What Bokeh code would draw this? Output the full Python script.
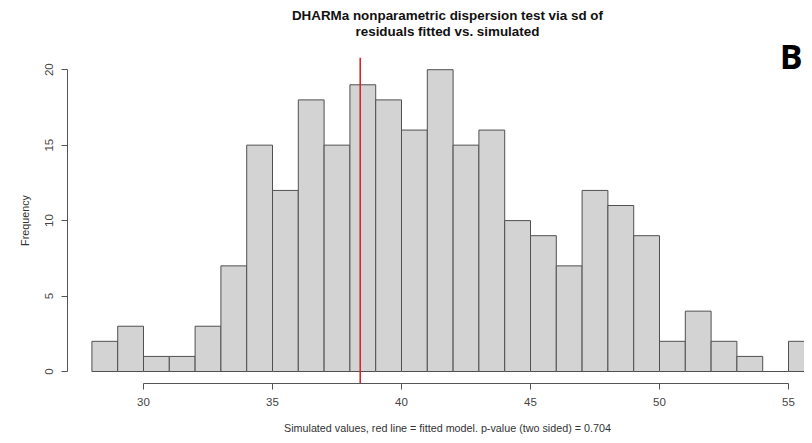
import math
from bokeh.plotting import figure
from bokeh.models import Range1d, Label, FixedTicker
from bokeh.embed import file_html
from bokeh.resources import INLINE

# ---- data ----
bin_edges = [28, 29, 30, 31, 32, 33, 34, 35, 36, 37, 38, 39, 40, 41, 42, 43, 44,
             45, 46, 47, 48, 49, 50, 51, 52, 53, 54, 55, 56]
counts = [2, 3, 1, 1, 3, 7, 15, 12, 18, 15, 19, 18, 16, 20, 15, 16, 10,
          9, 7, 12, 11, 9, 2, 4, 2, 1, 0, 2]
observed = 38.4
x_ticks = [30, 35, 40, 45, 50, 55]
y_ticks = [0, 5, 10, 15, 20]

title_1 = "DHARMa nonparametric dispersion test via sd of"
title_2 = "residuals fitted vs. simulated"
x_label = "Simulated values, red line = fitted model. p-value (two sided) = 0.704"
y_label = "Frequency"
panel = "B"

FONT = "Liberation Sans"
AX = "#555555"

# R plot region (axis positions)
x_region_left = 27.054
y_region_lo, y_region_hi = -0.795, 20.8

p = figure(width=804, height=435, output_backend="svg", toolbar_location=None,
           x_range=Range1d(24.457, 55.62), y_range=Range1d(-4.241, 24.586),
           min_border_left=0, min_border_right=0, min_border_top=0,
           min_border_bottom=0)
p.outline_line_color = None
p.xgrid.visible = False
p.ygrid.visible = False
p.background_fill_color = "white"
p.border_fill_color = "white"

p.quad(left=bin_edges[:-1], right=bin_edges[1:], bottom=0, top=counts,
       fill_color="#d3d3d3", line_color="#505050", line_width=1)

p.segment(x0=[observed], y0=[y_region_lo], x1=[observed], y1=[y_region_hi],
          line_color="#d0282c", line_width=1.6)

# axes, R style (drawn at the edges of the R plot region)
xa = p.xaxis[0]
xa.fixed_location = y_region_lo
xa.ticker = FixedTicker(ticks=x_ticks)
xa.bounds = (x_ticks[0], x_ticks[-1])
xa.axis_line_color = AX
xa.major_tick_line_color = AX
xa.major_tick_in = 0
xa.major_tick_out = 6
xa.minor_tick_line_color = None
xa.major_label_text_font = FONT
xa.major_label_text_font_size = "11.5px"
xa.major_label_text_color = "#444444"
xa.major_label_standoff = 9

ya = p.yaxis[0]
ya.fixed_location = x_region_left
ya.ticker = FixedTicker(ticks=y_ticks)
ya.bounds = (y_ticks[0], y_ticks[-1])
ya.axis_line_color = AX
ya.major_tick_line_color = AX
ya.major_tick_in = 0
ya.major_tick_out = 6
ya.minor_tick_line_color = None
ya.major_label_orientation = "vertical"
ya.major_label_text_font = FONT
ya.major_label_text_font_size = "11.5px"
ya.major_label_text_color = "#444444"
ya.major_label_standoff = 8

def add_label(text, x, y, size, style="normal", color="#222222", font=FONT,
              angle=0.0, align="center"):
    p.add_layout(Label(x=x, y=y, text=text, text_align=align,
                       text_baseline="middle", text_font=font,
                       text_font_size=size, text_font_style=style,
                       text_color=color, angle=angle))

add_label(title_1, 41.78, 23.59, "13.4px", "bold", "#111111")
add_label(title_2, 41.78, 22.53, "13.4px", "bold", "#111111")
add_label(x_label, 41.78, -3.711, "10.75px", "normal", "#333333")
add_label(y_label, 25.388, 10.007, "10.75px", "normal", "#333333", angle=math.pi / 2)
add_label(panel, 55.55, 20.94, "34px", "bold", "#000000", "Open Sans", align="right")

open("out.html", "w").write(file_html(p, INLINE))
